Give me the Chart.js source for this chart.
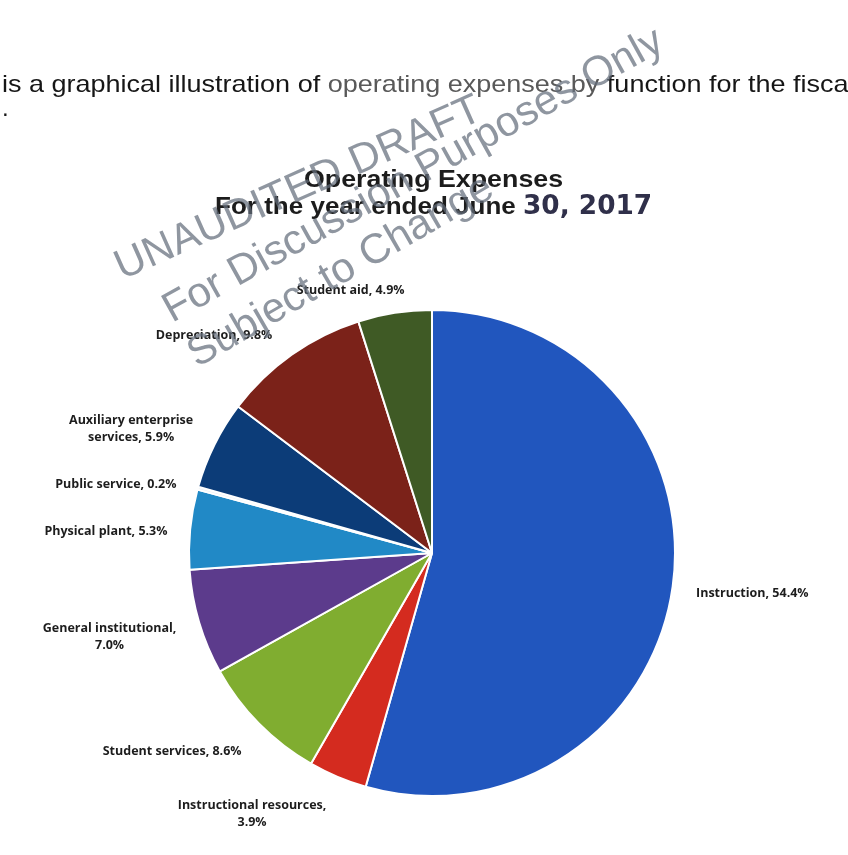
<!DOCTYPE html>
<html>
<head>
<meta charset="utf-8">
<script src="https://cdn.jsdelivr.net/npm/chart.js@4.4.1/dist/chart.umd.min.js"></script>
<style>
	html, body { margin: 0; padding: 0; background: #fff; }
	body { width: 848px; height: 855px; position: relative; overflow: hidden; }
	#pie { position: absolute; left: 0; top: 0; }
	.txt { position: absolute; left: 0; top: 0; white-space: nowrap; line-height: 1; transform-origin: 0 0; }
	#intro { font: 24px "Liberation Sans", Arial, sans-serif; color: #161616; }
	#intro .soft { color: #595959; }
	#intro2 { font: 24px "Liberation Sans", Arial, sans-serif; color: #161616; }
	#title1, #title2 { font: bold 24px "Liberation Sans", Arial, sans-serif; color: #1c1c1c; }
	#title2 .yr { font: bold 27px "DejaVu Sans Condensed", "DejaVu Sans", sans-serif; font-stretch: condensed; color: #30304a; }
	.wm { font: 42px "Liberation Sans", Arial, sans-serif; color: rgba(100, 110, 124, 0.72); pointer-events: none; }
</style>
</head>
<body>
<canvas id="pie" width="848" height="855"></canvas>

<div class="txt" id="intro">is a graphical illustration of <span class="soft">operating expenses by</span> function for the fisca</div>
<div class="txt" id="intro2">.</div>
<div class="txt" id="title1">Operating Expenses</div>
<div class="txt" id="title2">For the year ended June <span class="yr">30, 2017</span></div>

<div class="txt wm" id="wm1">UNAUDITED DRAFT</div>
<div class="txt wm" id="wm2">For Discussion Purposes Only</div>
<div class="txt wm" id="wm3">Subject to Change</div>

<script>
// data, clockwise from 12 o'clock
const categories = [
	"Instruction",
	"Instructional resources",
	"Student services",
	"General institutional",
	"Physical plant",
	"Public service",
	"Auxiliary enterprise services",
	"Depreciation",
	"Student aid",
];
const shares = [54.4, 3.9, 8.6, 7.0, 5.3, 0.2, 5.9, 9.8, 4.9];
const sliceColors = [
	"#2156be",
	"#d42b1f",
	"#80ad30",
	"#5c3b8c",
	"#2189c6",
	"#eef2f6",
	"#0c3c78",
	"#7b2219",
	"#3f5a25",
];

// label layout (excel nudged its labels around a bit)
const LABEL_GAP = 12;
const LINE_H = 17;
const WRAP_W = 150;
const labelNudge = [
	[12, 4], [-52, 10], [-29, 13], [-14, 6], [-11, 4],
	[-12, 2], [-17, -3], [-37, -2], [-34, -2],
];

function wrapLabel(ctx, text) {
	const words = text.split(" ");
	const lines = [];
	let cur = "";
	words.forEach((w) => {
		const test = cur ? cur + " " + w : w;
		if (cur && ctx.measureText(test).width > WRAP_W) {
			lines.push(cur);
			cur = w;
		} else {
			cur = test;
		}
	});
	lines.push(cur);
	return lines;
}

const sliceLabels = {
	id: "sliceLabels",
	afterDatasetsDraw(chart) {
		const ctx = chart.ctx;
		const arcs = chart.getDatasetMeta(0).data;
		ctx.save();
		ctx.font = '700 12.5px "Open Sans", sans-serif';
		ctx.fillStyle = "#1d1d1d";
		ctx.textAlign = "center";
		ctx.textBaseline = "middle";
		arcs.forEach((arc, i) => {
			const p = arc.getProps(["x", "y", "startAngle", "endAngle", "outerRadius"], true);
			const mid = (p.startAngle + p.endAngle) / 2;
			const dx = Math.cos(mid);
			const dy = Math.sin(mid);
			const lines = wrapLabel(ctx, `${categories[i]}, ${shares[i].toFixed(1)}%`);
			const w = Math.max(...lines.map((l) => ctx.measureText(l).width));
			const h = lines.length * LINE_H;
			const cx = p.x + dx * (p.outerRadius + LABEL_GAP) + (dx * w) / 2 + labelNudge[i][0];
			const cy = p.y + dy * (p.outerRadius + LABEL_GAP) + (dy * h) / 2 + labelNudge[i][1];
			lines.forEach((l, k) => {
				ctx.fillText(l, cx, cy + (k - (lines.length - 1) / 2) * LINE_H);
			});
		});
		ctx.restore();
	},
};

new Chart(document.getElementById("pie"), {
	type: "pie",
	data: {
		labels: categories,
		datasets: [
			{
				data: shares,
				backgroundColor: sliceColors,
				borderColor: "#ffffff",
				borderWidth: 2,
			},
		],
	},
	options: {
		responsive: false,
		animation: false,
		layout: { padding: { top: 309, bottom: 58, left: 186, right: 170 } },
		plugins: {
			legend: { display: false },
			tooltip: { enabled: false },
		},
	},
	plugins: [sliceLabels],
});

// put a text block with its baseline at (x, baseY), stretched to width
function place(id, x, baseY, width, angle, centered) {
	const el = document.getElementById(id);
	const probe = document.createElement("span");
	probe.style.cssText = "display:inline-block;width:0;height:0";
	el.appendChild(probe);
	const base = probe.offsetTop;
	const natural = el.offsetWidth;
	const sx = width ? width / natural : 1;
	const left = centered ? x - (natural * sx) / 2 : x;
	el.style.left = left + "px";
	el.style.top = baseY + "px";
	el.style.transform = `rotate(${angle || 0}deg) scaleX(${sx}) translateY(${-base}px)`;
}

place("intro", 2, 92, 846);
place("intro2", 2, 116, 0);
place("title1", 433, 187, 259, 0, true);
place("title2", 215, 214, 437);
place("wm1", 122, 280, 0, -24);
place("wm2", 172, 323, 0, -29);
place("wm3", 197, 368, 0, -30);
</script>
</body>
</html>
